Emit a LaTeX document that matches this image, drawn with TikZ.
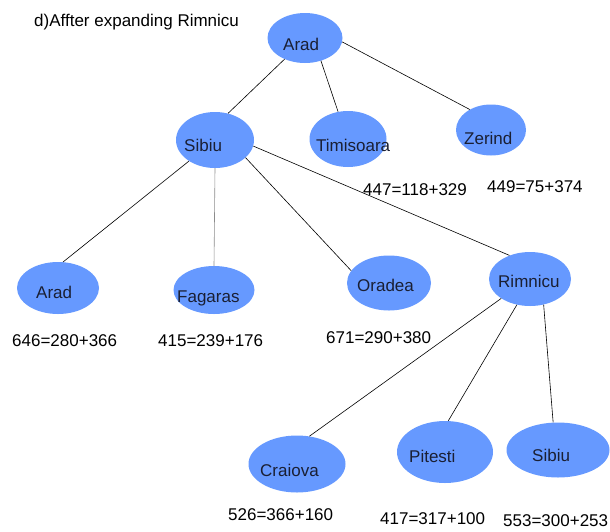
\documentclass[tikz,border=0pt]{standalone}
\usepackage{fontspec}
\setmainfont{Liberation Sans}
\usetikzlibrary{shapes.geometric}
\definecolor{nodeblue}{HTML}{6699FF}
\definecolor{txtdark}{HTML}{1A1F33}
\tikzset{
  city/.style={ellipse, fill=nodeblue, draw=none, inner sep=0pt},
  ctext/.style={anchor=base west, inner sep=0pt, text=txtdark, font=\fontsize{17}{20}\selectfont},
  cost/.style={anchor=base west, inner sep=0pt, text=black, font=\fontsize{17}{20}\selectfont},
  edge/.style={draw=black, line width=0.6pt},
  lightedge/.style={draw=black!45, line width=0.6pt}
}
\begin{document}
\begin{tikzpicture}[x=1pt, y=-1pt]
\useasboundingbox (0,0) rectangle (610,531);

% title
\node[cost] (title) at (34,26) {d)Affter expanding Rimnicu};

% ellipses
\node[city, minimum width=75pt, minimum height=50pt] (arad) at (305,38) {};
\node[city, minimum width=78pt, minimum height=56pt] (sibiu) at (215,140) {};
\node[city, minimum width=77pt, minimum height=56pt] (timi) at (348,139) {};
\node[city, minimum width=70pt, minimum height=51pt] (zer) at (491,130) {};
\node[city, minimum width=82pt, minimum height=52pt] (aradl) at (58,288) {};
\node[city, minimum width=81pt, minimum height=48pt] (fag) at (214,290) {};
\node[city, minimum width=84pt, minimum height=55pt] (ora) at (389,283) {};
\node[city, minimum width=82pt, minimum height=54pt] (rim) at (530,279) {};
\node[city, minimum width=97pt, minimum height=57pt] (cra) at (297,464) {};
\node[city, minimum width=96pt, minimum height=62pt] (pit) at (445,452) {};
\node[city, minimum width=103pt, minimum height=55pt] (sibb) at (558,450) {};

% connectors
\draw[edge] (arad.226) -- (sibiu.64);
\draw[edge] (arad.305) -- (timi.110);
\draw[edge] (arad.354) -- (zer.136);
\draw[edge] (sibiu.219) -- (aradl.79);
\draw[lightedge] (sibiu.270) -- (fag.90);
\draw[edge] (sibiu.330) -- (ora.162);
\draw[edge] (sibiu.351) -- (rim.131);
\draw[edge] (rim.214) -- (cra.66);
\draw[edge] (rim.243) -- (pit.84);
\draw[edge] (rim.298) -- (sibb.100);

% city names
\node[ctext] (taradt) at (283,50) {Arad};
\node[ctext] (tsibiu) at (184,151) {Sibiu};
\node[ctext] (ttimi) at (316,151) {Timisoara};
\node[ctext] (tzer) at (464,144) {Zerind};
\node[ctext] (taradl) at (36,298) {Arad};
\node[ctext] (tfag) at (177,302) {Fagaras};
\node[ctext] (tora) at (357,291) {Oradea};
\node[ctext] (trim) at (498,287) {Rimnicu};
\node[ctext] (tcra) at (260,476) {Craiova};
\node[ctext] (tpit) at (409,462) {Pitesti};
\node[ctext] (tsibb) at (532,461) {Sibiu};

% costs
\node[cost] (c447) at (363,195) {447=118+329};
\node[cost] (c449) at (487,192) {449=75+374};
\node[cost] (c646) at (12,346) {646=280+366};
\node[cost] (c415) at (158,346) {415=239+176};
\node[cost] (c671) at (326,343) {671=290+380};
\node[cost] (c526) at (228,520) {526=366+160};
\node[cost] (c417) at (380,524) {417=317+100};
\node[cost] (c553) at (503,526.5) {553=300+253};
\end{tikzpicture}
\end{document}
